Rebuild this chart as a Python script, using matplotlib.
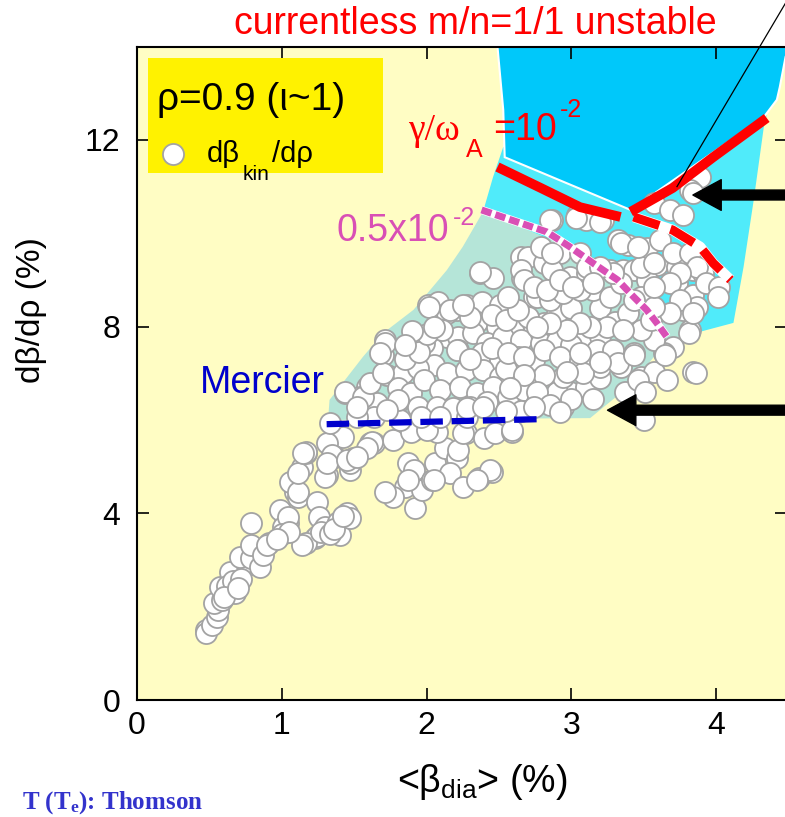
import matplotlib
matplotlib.use("Agg")
import matplotlib.pyplot as plt
from matplotlib.patches import Polygon, Rectangle
import numpy as np

plt.rcParams['font.family'] = ['Liberation Sans', 'DejaVu Sans']
plt.rcParams['mathtext.fontset'] = 'custom'
plt.rcParams['mathtext.rm'] = 'Liberation Sans'
plt.rcParams['mathtext.it'] = 'Liberation Sans'
plt.rcParams['mathtext.default'] = 'regular'

# ---- measured d(beta_kin)/d(rho) at rho = 0.9 vs <beta_dia> ----
# low-beta streak
pts_low = [
    (0.48, 1.50), (0.48, 1.44), (0.52, 1.61), (0.55, 1.78), (0.56, 1.93), (0.53, 2.08),
    (0.59, 2.14), (0.68, 2.29), (0.57, 2.42), (0.68, 2.68), (0.64, 2.74), (0.76, 2.89),
    (0.75, 2.95), (0.71, 3.06), (0.79, 3.04), (0.85, 2.85), (0.91, 3.36), (0.79, 3.32),
    (0.79, 3.79), (0.87, 3.11), (0.90, 3.32), (1.02, 3.90), (0.99, 4.07), (1.04, 3.79),
    (1.01, 3.71), (1.04, 3.92), (1.09, 4.46), (1.06, 4.67), (1.11, 4.35), (1.11, 4.46),
    (1.14, 4.99), (1.17, 5.29), (1.11, 4.86), (1.24, 4.24), (1.23, 3.47), (1.24, 3.52),
    (1.17, 3.36), (1.14, 3.32), (1.26, 3.92), (1.30, 3.71), (1.39, 3.79), (1.39, 3.81),
    (1.45, 4.01), (1.40, 3.54), (1.47, 3.90), (1.31, 4.82), (1.30, 4.78), (1.37, 5.21),
    (1.49, 5.19), (1.47, 4.93), (1.42, 5.64), (1.31, 5.51), (1.61, 5.51), (1.17, 5.31),
    (1.35, 5.25), (1.47, 5.08), (1.33, 5.94), (0.62, 2.45), (0.66, 2.55), (0.60, 2.20),
    (0.72, 2.60), (0.70, 2.40), (1.00, 3.55), (1.05, 3.60), (0.97, 3.45), (1.27, 3.60),
    (1.33, 3.55), (1.36, 3.66), (1.42, 3.95), (1.15, 5.29), (1.31, 5.08), (1.45, 5.14),
]

# points below the Mercier line
pts_mid = [
    (1.64, 5.51), (1.77, 5.57), (1.87, 5.08), (1.91, 4.93), (1.85, 4.56), (1.77, 4.35),
    (1.92, 4.11), (1.97, 4.50), (2.04, 4.71), (2.06, 5.08), (2.13, 5.40), (2.21, 5.19),
    (2.16, 4.86), (2.25, 4.56), (2.36, 4.76), (2.45, 4.89), (2.27, 5.72), (2.40, 5.61),
    (2.47, 5.72), (2.59, 5.74), (2.07, 5.74), (1.91, 5.79), (1.71, 4.46), (2.05, 4.71),
    (1.87, 4.71), (2.22, 5.36), (2.44, 4.93), (2.35, 4.71), (1.62, 5.53), (1.89, 5.74),
    (2.00, 5.79), (2.25, 5.72), (2.59, 5.79), (1.59, 5.40), (1.52, 5.20),
]

# main body of the data
pts_core = [
    (1.44, 6.58), (1.71, 7.71), (1.70, 7.39), (2.01, 8.46), (2.08, 8.53), (2.37, 9.15),
    (2.46, 9.04), (2.65, 9.49), (2.66, 9.04), (2.21, 8.36), (2.28, 8.46), (2.38, 8.53),
    (2.51, 8.46), (2.63, 8.31), (2.74, 8.64), (2.81, 8.08), (2.14, 8.29), (2.35, 8.10),
    (2.49, 7.99), (2.60, 7.93), (2.74, 7.99), (2.14, 7.78), (2.22, 7.78), (2.32, 7.86),
    (2.42, 7.65), (2.53, 7.78), (2.65, 7.71), (2.79, 7.65), (2.04, 7.54), (2.22, 7.50),
    (2.38, 7.44), (2.51, 7.29), (2.63, 7.35), (2.74, 7.29), (2.05, 7.18), (2.14, 7.01),
    (2.27, 7.07), (2.39, 7.07), (2.51, 6.92), (2.63, 7.01), (2.76, 6.86), (1.73, 6.96),
    (1.84, 7.01), (1.94, 7.11), (1.80, 6.69), (1.89, 6.58), (1.98, 6.86), (2.09, 6.64),
    (2.23, 6.71), (2.35, 6.58), (2.46, 6.71), (2.56, 6.49), (2.67, 6.64), (2.77, 6.36),
    (1.59, 6.71), (1.54, 6.49), (1.66, 6.36), (1.80, 6.39), (1.94, 6.28), (2.07, 6.28),
    (2.18, 6.26), (2.30, 6.28), (2.42, 6.39), (1.64, 6.06), (1.82, 6.00), (1.96, 6.06),
    (2.09, 6.06), (2.28, 6.06), (1.52, 6.06), (1.80, 6.43), (2.76, 6.39), (2.85, 6.39),
    (2.94, 6.28), (2.99, 6.60), (2.28, 6.26), (2.39, 6.28), (1.44, 6.60), (1.56, 6.49),
    (1.61, 6.79), (1.70, 7.01), (1.71, 7.65), (1.68, 7.44), (1.73, 6.21), (1.52, 6.28),
    (2.02, 8.42), (2.16, 8.36), (2.37, 9.17), (1.98, 7.65), (2.11, 7.93), (2.21, 7.50),
    (1.85, 7.30), (1.95, 7.45), (2.00, 7.85), (1.90, 7.90), (2.05, 8.00), (1.85, 7.60),
    (2.30, 8.20), (2.45, 8.25), (2.55, 8.15), (2.70, 8.20), (2.90, 8.30), (3.00, 8.40),
    (3.20, 8.40), (3.30, 8.10), (2.90, 7.70), (3.10, 7.75), (3.20, 7.80), (3.00, 7.60),
    (2.45, 7.55), (2.55, 7.10), (2.30, 7.30), (2.90, 6.60), (3.10, 6.70), (3.20, 6.90),
    (3.00, 6.45), (3.15, 6.45), (2.65, 6.20), (2.55, 6.20),
]

# high-beta points near the stability boundaries
pts_high = [
    (2.87, 10.29), (3.04, 10.39), (3.10, 10.29), (3.22, 10.29), (3.57, 10.65), (3.68, 10.50),
    (3.77, 10.39), (3.89, 11.21), (3.82, 10.93), (3.32, 9.86), (3.39, 9.75), (3.52, 9.69),
    (3.61, 9.86), (3.59, 9.32), (3.73, 9.28), (3.84, 9.21), (3.91, 9.15), (4.01, 8.83),
    (3.73, 8.94), (3.84, 8.68), (3.77, 8.36), (3.87, 8.42), (3.82, 7.93), (3.70, 7.56),
    (3.64, 7.44), (3.57, 7.71), (3.48, 7.93), (3.43, 7.44), (3.34, 7.14), (3.48, 6.92),
    (3.57, 7.03), (3.66, 6.86), (3.84, 7.03), (3.37, 6.60), (3.50, 5.99), (2.70, 9.49),
    (2.65, 9.21), (2.67, 9.00), (2.81, 9.36), (2.92, 9.58), (2.87, 9.21), (2.99, 9.06),
    (3.11, 9.15), (3.15, 8.79), (3.27, 9.21), (3.36, 9.21), (3.43, 9.21), (3.52, 9.00),
    (3.27, 8.64), (3.34, 8.94), (3.48, 8.64), (3.39, 8.29), (3.55, 8.14), (3.25, 7.99),
    (3.36, 7.93), (3.13, 7.99), (3.06, 8.08), (2.97, 7.93), (2.85, 8.08), (2.76, 7.99),
    (2.63, 8.36), (2.56, 8.64), (2.76, 8.64), (2.85, 8.57), (2.94, 8.72), (3.06, 8.79),
    (2.56, 7.44), (2.67, 7.35), (2.81, 7.50), (2.92, 7.35), (3.06, 7.29), (3.18, 7.50),
    (3.29, 7.50), (3.20, 7.14), (3.08, 7.01), (2.94, 6.92), (2.81, 6.96), (2.67, 6.96),
    (2.58, 6.69), (2.76, 6.60), (2.85, 6.32), (2.92, 6.17), (2.74, 6.28), (3.86, 7.01),
    (3.46, 6.86), (3.51, 6.60), (3.32, 7.22), (3.43, 7.39), (3.20, 7.24), (3.06, 7.44),
    (2.97, 7.03), (3.65, 7.39), (3.81, 7.86), (3.84, 10.86), (3.70, 9.58), (3.82, 9.58),
    (3.87, 9.28), (3.93, 8.94), (4.02, 8.85), (4.01, 8.64), (3.48, 9.28), (3.29, 9.15),
    (3.75, 9.15), (3.68, 8.94), (3.75, 8.57), (3.84, 8.29), (3.68, 8.29), (3.57, 8.42),
    (3.43, 8.57), (3.57, 8.85), (2.25, 8.46), (2.74, 8.85), (2.83, 8.79), (2.92, 9.00),
    (3.01, 8.85), (2.79, 9.71), (2.87, 9.58), (3.06, 9.58), (3.11, 9.28), (3.20, 9.28),
    (3.15, 8.94), (2.85, 10.29), (3.03, 10.33), (3.20, 10.24), (3.34, 9.79), (3.46, 9.71),
    (3.57, 9.36),
]

# ---- stability regions ----
unstable_region = [(2.49, 14.0), (2.53, 12.64), (2.54, 11.63), (3.41, 10.50), (4.33, 12.49),
                   (4.42, 12.86), (4.44, 13.13), (4.48, 13.78), (4.51, 14.0)]
gamma_1e2_region = [(2.39, 10.46), (2.46, 11.21), (2.53, 11.85), (3.41, 10.61), (4.35, 12.54),
                    (4.33, 12.28), (4.26, 10.71), (4.19, 9.28), (4.12, 8.08), (3.89, 7.89),
                    (3.34, 9.21), (2.83, 9.90)]
gamma_5e3_region = [(1.32, 6.00), (1.33, 6.43), (1.42, 6.79), (1.56, 7.35), (1.70, 7.86),
                    (1.91, 8.36), (2.14, 9.21), (2.25, 9.71), (2.39, 10.46), (2.83, 9.90),
                    (3.34, 9.21), (3.89, 7.93), (3.61, 7.50), (3.41, 6.75), (3.13, 6.04)]

# ---- boundary curves ----
g1_left_x = [2.49, 2.79, 3.06, 3.34]
g1_left_y = [11.42, 10.97, 10.56, 10.35]
g1_right_x = [3.41, 3.70, 3.98, 4.35]
g1_right_y = [10.46, 10.97, 11.63, 12.47]
g1_dash_x = [3.43, 3.70, 3.89, 3.98, 4.10]
g1_dash_y = [10.35, 10.07, 9.71, 9.36, 9.00]
g5_x = [2.38, 2.58, 2.83, 2.99, 3.15, 3.32, 3.43, 3.52, 3.59, 3.66]
g5_y = [10.50, 10.29, 10.03, 9.71, 9.36, 9.00, 8.64, 8.36, 8.08, 7.78]
mercier_x = [1.31, 2.82]
mercier_y = [5.91, 6.02]

W, H = 785, 817
fig = plt.figure(figsize=(W / 100, H / 100), dpi=100)
ax = fig.add_axes([137 / W, (H - 700) / H, 650 / W, 653.4 / H])
ax.set_xlim(0, 4.49)
ax.set_ylim(0, 14)
ax.set_facecolor('#fffdc4')

ax.add_patch(Polygon(gamma_5e3_region, closed=True, fc='#b5e5d8', ec='none', zorder=1))
ax.add_patch(Polygon(gamma_1e2_region, closed=True, fc='#50ebfa', ec='none', zorder=1.1))
ax.add_patch(Polygon(unstable_region, closed=True, fc='#00c8fa', ec='white', lw=1.5, zorder=1.2))

allpts = np.array(pts_low + pts_mid + pts_core + pts_high)
ax.scatter(allpts[:, 0], allpts[:, 1], s=230, c='white', edgecolors='#a3a3a3',
           linewidths=1.3, zorder=3)

# Mercier limit
ax.plot(mercier_x, mercier_y, color='#0000cc', lw=4.5, dashes=(3.6, 1.4),
        dash_capstyle='butt', zorder=5)
# gamma/omega_A = 0.5e-2 contour
ax.plot(g5_x, g5_y, color='white', lw=6, solid_capstyle='butt', zorder=5)
ax.plot(g5_x, g5_y, color='#d94fb5', lw=5, dashes=(1.5, 0.6),
        dash_capstyle='butt', zorder=5.1)
# gamma/omega_A = 1e-2 contour
ax.plot(g1_dash_x, g1_dash_y, color='white', lw=7.5, solid_capstyle='butt', zorder=5)
ax.plot(g1_dash_x, g1_dash_y, color='#ff0000', lw=6.5, dashes=(3.0, 1.3),
        dash_capstyle='butt', zorder=5.1)
ax.plot(g1_left_x, g1_left_y, color='#ff0000', lw=7, solid_capstyle='butt', zorder=5.2)
ax.plot(g1_right_x, g1_right_y, color='#ff0000', lw=7, solid_capstyle='butt', zorder=5.2)

# arrows and pointer
arrow_style = "simple,head_length=1.2,head_width=1.3,tail_width=0.42"
for tip in [(3.84, 10.82), (3.25, 6.21)]:
    ax.annotate("", xy=tip, xytext=(4.75, tip[1]),
                arrowprops=dict(arrowstyle=arrow_style, fc='k', ec='k',
                                mutation_scale=17, shrinkA=0, shrinkB=0),
                annotation_clip=False, zorder=7)
ax.plot([3.73, 4.55], [11.0, 15.3], color='k', lw=0.9, clip_on=False, zorder=7)

# inset label box
ax.add_patch(Rectangle((0.017, 0.807), 0.361, 0.176, transform=ax.transAxes,
                       fc='#fff200', ec='none', zorder=8))
ax.text(0.031, 0.903, "ρ=0.9 (ι~1)", transform=ax.transAxes, fontsize=28,
        ha='left', va='baseline', zorder=9)
ax.scatter([0.055], [0.836], s=230, c='white', edgecolors='#a3a3a3', linewidths=1.3,
           transform=ax.transAxes, zorder=9, clip_on=False)
ax.text(0.108, 0.823, "dβ", transform=ax.transAxes, fontsize=21, ha='left',
        va='baseline', zorder=9)
ax.text(0.163, 0.796, "kin", transform=ax.transAxes, fontsize=15, ha='left',
        va='baseline', zorder=9)
ax.text(0.208, 0.823, "/dρ", transform=ax.transAxes, fontsize=21, ha='left',
        va='baseline', zorder=9)

# curve labels
ax.text(0.435, 6.58, "Mercier", color='#0000cc', fontsize=27, ha='left', va='baseline', zorder=9)
ax.text(1.38, 9.83, "0.5x10", color='#d94fb5', fontsize=27, ha='left', va='baseline', zorder=9)
ax.text(2.18, 10.18, "-2", color='#d94fb5', fontsize=18, ha='left', va='baseline', zorder=9)
ax.text(1.87, 12.0, "γ/ω", color='#ff0000', fontsize=27, family='Liberation Serif',
        ha='left', va='baseline', zorder=9)
ax.text(2.27, 11.63, "A", color='#ff0000', fontsize=18, ha='left', va='baseline', zorder=9)
ax.text(2.46, 12.0, "=10", color='#ff0000', fontsize=27, ha='left', va='baseline', zorder=9)
ax.text(2.92, 12.49, "-2", color='#ff0000', fontsize=18, ha='left', va='baseline', zorder=9)

ax.set_xticks([0, 1, 2, 3, 4])
ax.set_yticks([0, 4, 8, 12])
ax.tick_params(direction='in', length=8.5, width=1.2, top=True, right=True, labelsize=23)
ax.tick_params(axis='x', pad=8)
ax.tick_params(axis='y', pad=12)
for sp in ax.spines.values():
    sp.set_linewidth(1.5)
    sp.set_zorder(10)

fig.text(475 / W, 1 - 24 / H, "currentless m/n=1/1 unstable", color='#ff0000',
         fontsize=27, ha='center', va='center')
fig.text(482 / W, 1 - 792 / H, "<β$_{dia}$> (%)", fontsize=27, ha='center', va='baseline')
fig.text(32 / W, 1 - 310 / H, "dβ/dρ (%)", fontsize=24, rotation=90, ha='center', va='center')
fig.text(22 / W, 1 - 816 / H, r"T (T$_{e}$): Thomson", family='Liberation Serif',
         weight='bold', fontsize=18, color='#3333cc', ha='left', va='bottom')

fig.savefig("out.png", dpi=100)
